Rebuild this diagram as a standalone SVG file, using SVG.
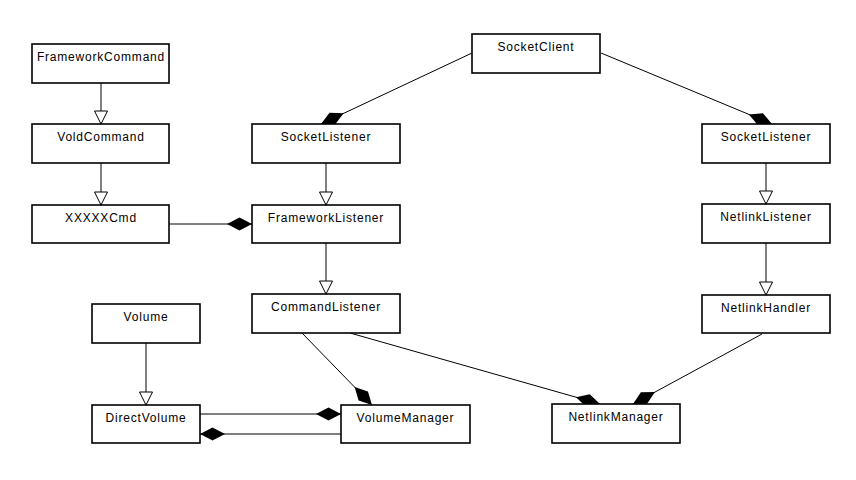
<svg xmlns="http://www.w3.org/2000/svg" width="856" height="480" viewBox="0 0 856 480">
<style>
.box{fill:#fff;stroke:#000;stroke-width:1.6}
.lbl{font-family:"Liberation Sans",Arial,sans-serif;font-size:12px;letter-spacing:0.8px;fill:#000;text-anchor:middle}
.gen{stroke:#000;stroke-width:1;fill:none;marker-end:url(#tri)}
.comp{stroke:#000;stroke-width:1;fill:none;marker-end:url(#dia)}
</style>
<defs>
<marker id="tri" markerUnits="userSpaceOnUse" markerWidth="14" markerHeight="15" viewBox="-1 -7.5 14 15" refX="13" refY="0" orient="auto">
<path d="M0,-6.5 L13,0 L0,6.5 Z" fill="#fff" stroke="#000" stroke-width="1"/>
</marker>
<marker id="dia" markerUnits="userSpaceOnUse" markerWidth="26" markerHeight="14" viewBox="0 -7 26 14" refX="25" refY="0" orient="auto">
<path d="M0,0 L12.5,-6.5 L25,0 L12.5,6.5 Z" fill="#000"/>
</marker>
</defs>
<rect width="856" height="480" fill="#fff"/>
<g id="connectors">
<line class="gen" x1="101" y1="83" x2="101" y2="124"/>
<line class="gen" x1="101" y1="163" x2="101" y2="205"/>
<line class="gen" x1="326" y1="163" x2="326" y2="205"/>
<line class="gen" x1="326" y1="243" x2="326" y2="294"/>
<line class="gen" x1="766" y1="163" x2="766" y2="204"/>
<line class="gen" x1="766" y1="243" x2="766" y2="295"/>
<line class="gen" x1="146" y1="343" x2="146" y2="405"/>
<line class="comp" x1="169" y1="224" x2="252" y2="224"/>
<line class="comp" x1="472" y1="53" x2="321" y2="124"/>
<line class="comp" x1="601" y1="53" x2="772" y2="124"/>
<line class="comp" x1="302" y1="333" x2="372" y2="405"/>
<line class="comp" x1="350" y1="333" x2="600" y2="404"/>
<line class="comp" x1="762" y1="334" x2="633" y2="404"/>
<line class="comp" x1="200" y1="414" x2="341" y2="414"/>
<line class="comp" x1="341" y1="434" x2="200" y2="434"/>
</g>
<g id="FrameworkCommand"><rect class="box" x="32" y="44" width="137" height="39"/><text class="lbl" x="101" y="60.5">FrameworkCommand</text></g>
<g id="VoldCommand"><rect class="box" x="32" y="124" width="137" height="39"/><text class="lbl" x="101" y="140.5">VoldCommand</text></g>
<g id="XXXXXCmd"><rect class="box" x="32" y="205" width="137" height="38"/><text class="lbl" x="101" y="221.5">XXXXXCmd</text></g>
<g id="SocketClient"><rect class="box" x="472" y="34" width="128" height="39"/><text class="lbl" x="536" y="50.5">SocketClient</text></g>
<g id="SocketListenerLeft"><rect class="box" x="252" y="124" width="148" height="39"/><text class="lbl" x="326" y="140.5">SocketListener</text></g>
<g id="FrameworkListener"><rect class="box" x="252" y="205" width="148" height="38"/><text class="lbl" x="326" y="221.5">FrameworkListener</text></g>
<g id="CommandListener"><rect class="box" x="252" y="294" width="148" height="39"/><text class="lbl" x="326" y="310.5">CommandListener</text></g>
<g id="SocketListenerRight"><rect class="box" x="702" y="124" width="128" height="39"/><text class="lbl" x="766" y="140.5">SocketListener</text></g>
<g id="NetlinkListener"><rect class="box" x="702" y="204" width="128" height="39"/><text class="lbl" x="766" y="220.5">NetlinkListener</text></g>
<g id="NetlinkHandler"><rect class="box" x="702" y="295" width="128" height="38"/><text class="lbl" x="766" y="311.5">NetlinkHandler</text></g>
<g id="Volume"><rect class="box" x="92" y="304" width="108" height="39"/><text class="lbl" x="146" y="320.5">Volume</text></g>
<g id="DirectVolume"><rect class="box" x="92" y="405" width="108" height="38"/><text class="lbl" x="146" y="421.5">DirectVolume</text></g>
<g id="VolumeManager"><rect class="box" x="341" y="405" width="129" height="38"/><text class="lbl" x="405.5" y="421.5">VolumeManager</text></g>
<g id="NetlinkManager"><rect class="box" x="552" y="404" width="128" height="39"/><text class="lbl" x="616" y="420.5">NetlinkManager</text></g>
</svg>
